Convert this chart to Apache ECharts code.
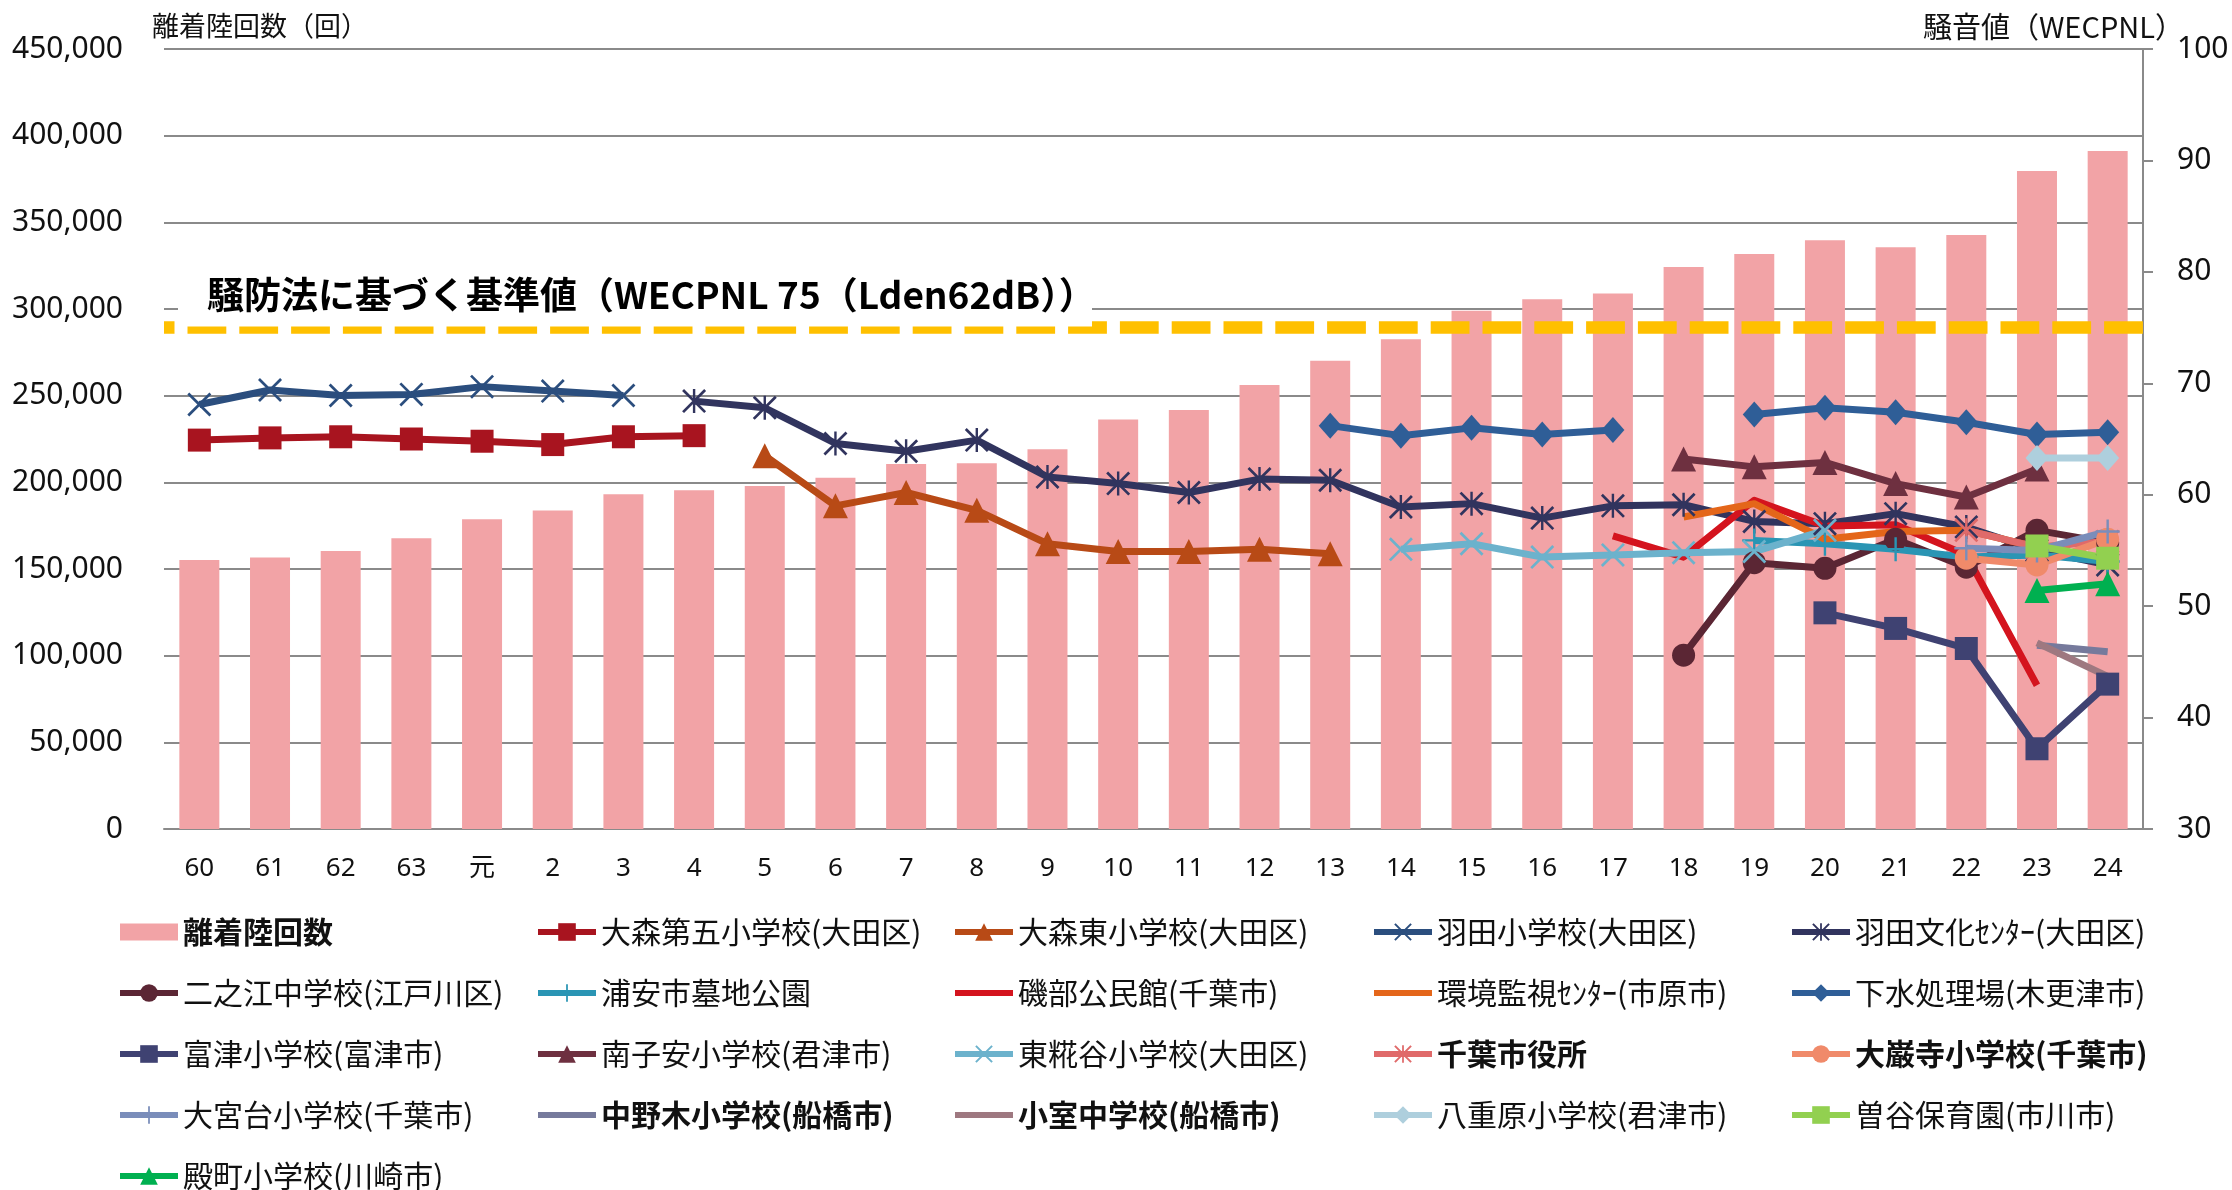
<!DOCTYPE html>
<html lang="ja">
<head>
<meta charset="utf-8">
<title>離着陸回数と騒音値の推移</title>
<script src="https://cdn.jsdelivr.net/npm/echarts@6/dist/echarts.min.js"></script>
<style>
  html, body { margin: 0; padding: 0; background: #fff; }
  #chart { width: 2232px; height: 1190px; }
</style>
</head>
<body>
<div id="chart"></div>
<script>
// ---- data ---------------------------------------------------------------
const N = null;
// fiscal years: 昭和60〜63, 平成元〜24
const years = ['60','61','62','63','元','2','3','4','5','6','7','8','9','10','11','12','13','14','15','16','17','18','19','20','21','22','23','24'];

// 離着陸回数 (回)
const movements = [155200,156600,160400,167800,178700,183700,193100,195400,197900,202700,210600,211000,219100,236200,241700,256200,270200,282500,299000,305600,309000,324300,331700,339600,335600,342700,379600,391100];

// 騒音値 WECPNL per monitoring station
const omoriDai5     = [64.9,65.1,65.2,65.0,64.8,64.5,65.2,65.3,N,N,N,N,N,N,N,N,N,N,N,N,N,N,N,N,N,N,N,N];
const omoriHigashi  = [N,N,N,N,N,N,N,N,63.5,59.0,60.2,58.6,55.6,54.9,54.9,55.1,54.7,N,N,N,N,N,N,N,N,N,N,N];
const hanedaSho     = [68.1,69.4,68.9,69.0,69.7,69.3,68.9,N,N,N,N,N,N,N,N,N,N,N,N,N,N,N,N,N,N,N,N,N];
const hanedaBunka   = [N,N,N,N,N,N,N,68.4,67.8,64.6,63.9,64.9,61.6,61.0,60.2,61.4,61.3,58.9,59.2,57.9,59.0,59.1,57.6,57.4,58.3,57.1,55.0,53.7];
const ninoe         = [N,N,N,N,N,N,N,N,N,N,N,N,N,N,N,N,N,N,N,N,N,45.6,53.9,53.4,56.0,53.5,56.8,55.7];
const urayasu       = [N,N,N,N,N,N,N,N,N,N,N,N,N,N,N,N,N,N,N,N,N,N,55.9,55.6,55.1,54.4,54.6,54.0];
const isobe         = [N,N,N,N,N,N,N,N,N,N,N,N,N,N,N,N,N,N,N,N,56.3,54.4,59.5,57.2,57.3,54.6,42.9,N];
const kankyo        = [N,N,N,N,N,N,N,N,N,N,N,N,N,N,N,N,N,N,N,N,N,58.0,59.2,56.0,56.7,56.8,55.3,N];
const gesui         = [N,N,N,N,N,N,N,N,N,N,N,N,N,N,N,N,66.2,65.3,66.0,65.4,65.8,N,67.2,67.8,67.4,66.5,65.4,65.6];
const futtsu        = [N,N,N,N,N,N,N,N,N,N,N,N,N,N,N,N,N,N,N,N,N,N,N,49.4,48.0,46.2,37.2,43.0];
const minamiKoyasu  = [N,N,N,N,N,N,N,N,N,N,N,N,N,N,N,N,N,N,N,N,N,63.2,62.5,62.9,61.0,59.8,62.3,N];
const higashiKojiya = [N,N,N,N,N,N,N,N,N,N,N,N,N,N,N,N,N,55.1,55.6,54.4,54.6,54.8,54.9,56.8,N,N,N,N];
const chibaCity     = [N,N,N,N,N,N,N,N,N,N,N,N,N,N,N,N,N,N,N,N,N,N,N,N,N,56.8,55.3,55.8];
const daiganji      = [N,N,N,N,N,N,N,N,N,N,N,N,N,N,N,N,N,N,N,N,N,N,N,N,N,54.3,53.7,56.0];
const omiyadai      = [N,N,N,N,N,N,N,N,N,N,N,N,N,N,N,N,N,N,N,N,N,N,N,N,N,55.2,55.0,56.7];
const nakanogi      = [N,N,N,N,N,N,N,N,N,N,N,N,N,N,N,N,N,N,N,N,N,N,N,N,N,N,46.5,45.9];
const komuro        = [N,N,N,N,N,N,N,N,N,N,N,N,N,N,N,N,N,N,N,N,N,N,N,N,N,N,46.7,43.7];
const yaebara       = [N,N,N,N,N,N,N,N,N,N,N,N,N,N,N,N,N,N,N,N,N,N,N,N,N,N,63.3,63.3];
const soya          = [N,N,N,N,N,N,N,N,N,N,N,N,N,N,N,N,N,N,N,N,N,N,N,N,N,N,55.4,54.3];
const tonomachi     = [N,N,N,N,N,N,N,N,N,N,N,N,N,N,N,N,N,N,N,N,N,N,N,N,N,N,51.4,52.0];

// 騒防法に基づく基準値
const standardValue = 75;

// axis ranges
const countTicks = [0, 450000, 50000];
const noiseTicks = [30, 100, 10];

// ---- styling ------------------------------------------------------------
const LATIN = '"Noto Sans", "Noto Sans CJK JP", sans-serif';
const JP = '"Noto Sans CJK JP", "Noto Sans", sans-serif';
const X_MARK = 'path://M0,1.6L1.6,0L20,18.4L18.4,20Z M18.4,0L20,1.6L1.6,20L0,18.4Z';
const STAR_MARK = 'path://M0,1.6L1.6,0L20,18.4L18.4,20Z M18.4,0L20,1.6L1.6,20L0,18.4Z M9,0L11,0L11,20L9,20Z';
const PLUS_MARK = 'path://M9,0L11,0L11,9L20,9L20,11L11,11L11,20L9,20L9,11L0,11L0,9L9,9Z';
// legend swatch for the bars: a 58x17 block centred in a 58x22 box
const BAR_ICON = 'path://M0,0L0.01,0Z M0,22L0.01,22Z M0,2.5L58,2.5L58,19.5L0,19.5Z';

const BAR_NAME = '離着陸回数';
const stations = [
  { name: '大森第五小学校(大田区)', data: omoriDai5, color: '#A8141F', symbol: 'rect', size: 23 },
  { name: '大森東小学校(大田区)', data: omoriHigashi, color: '#B84A16', symbol: 'triangle', size: 25 },
  { name: '羽田小学校(大田区)', data: hanedaSho, color: '#2B4E7E', symbol: X_MARK, size: 24 },
  { name: '羽田文化ｾﾝﾀｰ(大田区)', data: hanedaBunka, color: '#31345E', symbol: STAR_MARK, size: 24 },
  { name: '二之江中学校(江戸川区)', data: ninoe, color: '#5B2634', symbol: 'circle', size: 23 },
  { name: '浦安市墓地公園', data: urayasu, color: '#2A95B4', symbol: PLUS_MARK, size: 24 },
  { name: '磯部公民館(千葉市)', data: isobe, color: '#D4141E', symbol: 'none', size: 0 },
  { name: '環境監視ｾﾝﾀｰ(市原市)', data: kankyo, color: '#E4661A', symbol: 'none', size: 0 },
  { name: '下水処理場(木更津市)', data: gesui, color: '#2F5E97', symbol: 'diamond', size: [23, 26] },
  { name: '富津小学校(富津市)', data: futtsu, color: '#3F4272', symbol: 'rect', size: 23 },
  { name: '南子安小学校(君津市)', data: minamiKoyasu, color: '#6E3040', symbol: 'triangle', size: 25 },
  { name: '東糀谷小学校(大田区)', data: higashiKojiya, color: '#6CB2CC', symbol: X_MARK, size: 24 },
  { name: '千葉市役所', data: chibaCity, color: '#E06A6A', symbol: STAR_MARK, size: 24 },
  { name: '大巌寺小学校(千葉市)', data: daiganji, color: '#F08A6A', symbol: 'circle', size: 23 },
  { name: '大宮台小学校(千葉市)', data: omiyadai, color: '#7A8DBA', symbol: PLUS_MARK, size: 24 },
  { name: '中野木小学校(船橋市)', data: nakanogi, color: '#767A9C', symbol: 'none', size: 0 },
  { name: '小室中学校(船橋市)', data: komuro, color: '#9E7880', symbol: 'none', size: 0 },
  { name: '八重原小学校(君津市)', data: yaebara, color: '#AECFDD', symbol: 'diamond', size: [23, 26] },
  { name: '曽谷保育園(市川市)', data: soya, color: '#92D050', symbol: 'rect', size: 23 },
  { name: '殿町小学校(川崎市)', data: tonomachi, color: '#00B050', symbol: 'triangle', size: 25 }
];
const boldNames = [BAR_NAME, '千葉市役所', '大巌寺小学校(千葉市)', '中野木小学校(船橋市)', '小室中学校(船橋市)'];
const plainLineNames = stations.filter(s => s.symbol === 'none').map(s => s.name);

// legend laid out in five columns, filled row by row
const allNames = [BAR_NAME].concat(stations.map(s => s.name));
const columnX = [117, 535, 952, 1371, 1789];
const legends = columnX.map((x, c) => ({
  orient: 'vertical',
  left: x,
  top: 915,
  height: 340,
  padding: 0,
  itemGap: 27,
  itemWidth: 58,
  itemHeight: 22,
  lineStyle: { width: 6 },
  textStyle: { fontSize: 30, lineHeight: 34, color: '#111', fontFamily: JP },
  data: allNames.filter((n, i) => i % 5 === c).map(n => {
    const item = { name: n };
    if (n === BAR_NAME) item.icon = BAR_ICON;
    if (boldNames.includes(n)) item.textStyle = { fontWeight: 'bold' };
    if (plainLineNames.includes(n)) item.itemStyle = { opacity: 0 };
    return item;
  })
}));

const lineSeries = stations.map(s => ({
  type: 'line',
  name: s.name,
  yAxisIndex: 1,
  data: s.data,
  symbol: s.symbol,
  symbolSize: s.size,
  showAllSymbol: true,
  connectNulls: false,
  lineStyle: { width: 7, color: s.color, join: 'round' },
  itemStyle: { color: s.color, borderWidth: 0 },
  emphasis: { disabled: true }
}));

// reference level drawn as a dashed line on the noise axis
lineSeries[0].markLine = {
  silent: true,
  symbol: 'none',
  label: { show: false },
  lineStyle: { color: '#FFC000', width: 12.5, type: [38.8, 13], dashOffset: 28.3 },
  emphasis: { disabled: true },
  data: [{ yAxis: standardValue }]
};

const option = {
  animation: false,
  backgroundColor: '#fff',
  grid: { left: 164, right: 89, top: 49, bottom: 361 },
  legend: legends,
  xAxis: {
    type: 'category',
    data: years,
    axisLine: { lineStyle: { color: '#8a8a8a', width: 2 } },
    axisTick: { show: false },
    axisLabel: { fontSize: 26, color: '#111', margin: 27, fontFamily: LATIN }
  },
  yAxis: [
    {
      type: 'value',
      min: countTicks[0], max: countTicks[1], interval: countTicks[2],
      axisLine: { show: false },
      axisTick: { show: false },
      splitLine: { lineStyle: { color: '#8a8a8a', width: 2 } },
      axisLabel: {
        fontSize: 30, color: '#111', margin: 41, fontFamily: LATIN,
        formatter: v => v.toLocaleString('en-US')
      }
    },
    {
      type: 'value',
      position: 'right',
      min: noiseTicks[0], max: noiseTicks[1], interval: noiseTicks[2],
      axisLine: { show: true, lineStyle: { color: '#8a8a8a', width: 2 } },
      axisTick: { show: true, length: 10, lineStyle: { color: '#8a8a8a', width: 2 } },
      splitLine: { show: false },
      axisLabel: { fontSize: 30, color: '#111', margin: 34, fontFamily: LATIN }
    }
  ],
  series: [
    {
      type: 'bar',
      name: BAR_NAME,
      data: movements,
      barWidth: 40,
      itemStyle: { color: '#F2A3A6' },
      emphasis: { disabled: true }
    }
  ].concat(lineSeries)
};

const chart = echarts.init(document.getElementById('chart'), null, { renderer: 'canvas' });
chart.setOption(option);

// axis titles and the boxed caption above the reference line
const yRef = chart.convertToPixel({ yAxisIndex: 1 }, standardValue);
chart.setOption({
  graphic: [
    {
      type: 'text', x: 152, y: 26, z: 20,
      style: { text: '離着陸回数（回）', fontSize: 27, fontFamily: JP, fill: '#111', verticalAlign: 'middle' }
    },
    {
      type: 'text', x: 2184, y: 27, z: 20,
      style: { text: '騒音値（WECPNL）', fontSize: 29, fontFamily: JP, fill: '#111', align: 'right', verticalAlign: 'middle' }
    },
    {
      type: 'rect', z: 20,
      shape: { x: 178, y: yRef - 64, width: 914, height: 63 },
      style: { fill: '#fff' }
    },
    {
      type: 'text', x: 207, y: yRef - 33, z: 21,
      style: {
        text: '騒防法に基づく基準値（WECPNL 75（Lden62dB））',
        fontSize: 37, fontWeight: 'bold', fontFamily: JP, fill: '#000', verticalAlign: 'middle'
      }
    }
  ]
});
</script>
</body>
</html>
